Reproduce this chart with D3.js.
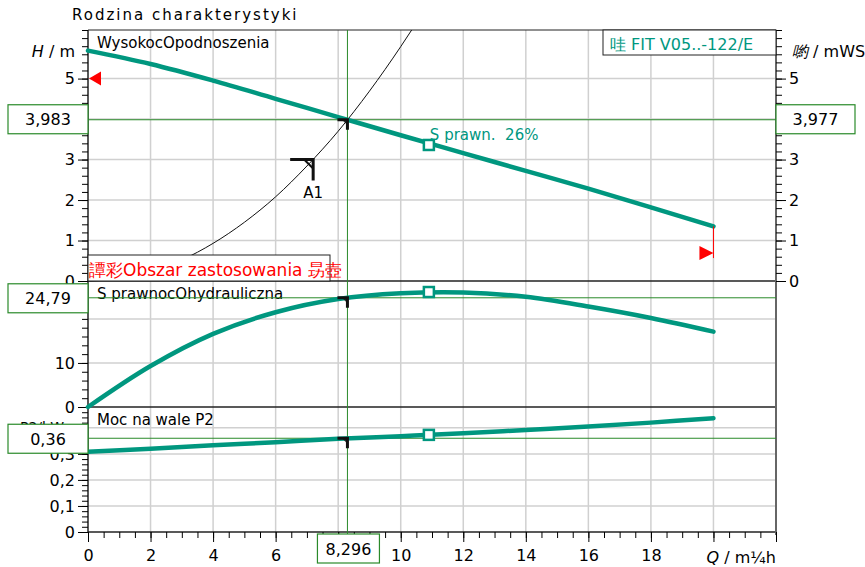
<!DOCTYPE html>
<meta charset="UTF-8">
<script src="https://d3js.org/d3.v7.min.js"></script>
<style>
  body { margin: 0; background: #fff; }
  text { font-family: "DejaVu Sans", sans-serif; }
</style>
<div id="chart"></div>
<script>

  // Data
  const flowQ    = [0, 2, 4, 6, 8, 10, 12, 14, 16, 18, 20];
  const headH    = [5.69, 5.36, 4.95, 4.50, 4.05, 3.60, 3.16, 2.72, 2.28, 1.82, 1.35];
  const effPct   = [0, 9.3, 16.6, 21.5, 24.5, 25.8, 26.0, 25.0, 22.8, 20.2, 17.1];
  const powerP2  = [0.308, 0.320, 0.333, 0.345, 0.358, 0.368, 0.379, 0.392, 0.405, 0.420, 0.437];
  const sysQ     = [0, 1, 2, 3, 4, 5, 6, 7, 8, 9, 10, 10.35];
  const sysH     = [0, 0.058, 0.23, 0.52, 0.93, 1.45, 2.08, 2.84, 3.70, 4.69, 5.79, 6.2];
  const opQ = 8.296, opH = 3.983, opHright = 3.977, opEff = 24.79, opP2 = 0.36;
  const bestQ = 10.9, bestH = 3.36, bestEff = 26.1, bestP2 = 0.373;
  const a1 = {q: 7.2, h: 3.0};
  const minLimitH = 5.0, maxLimit = {q: 20, h: 0.69};
  const xTicks = [0, 2, 4, 6, 10, 12, 14, 16, 18];
  const hTicks = [0, 1, 2, 3, 5];
  const effTicks = [0, 10];
  const p2Ticks = [0, 0.1, 0.2, 0.3];

  const W = 865, H = 567;
  const teal = "#00977f", green = "#2a8a2a", grid = "#d0d0d0";

  const svg = d3.select("#chart").append("svg")
    .attr("width", W).attr("height", H);

  const x  = d3.scaleLinear().domain([0, 22]).range([88, 776]);
  const yH = d3.scaleLinear().domain([0, 6.2]).range([281, 30]);
  const yE = d3.scaleLinear().domain([0, 28.6]).range([407, 281]);
  const yP = d3.scaleLinear().domain([0, 0.48]).range([532, 407]);

  const fmt = d3.formatLocale({decimal: ",", thousands: " ", grouping: [3], currency: ["", ""]});
  const f1 = v => fmt.format("~g")(v);

  // grid
  const g = svg.append("g");
  d3.range(2, 21, 2).forEach(q => {
    g.append("line").attr("x1", x(q)).attr("x2", x(q)).attr("y1", 30).attr("y2", 532)
      .attr("stroke", grid).attr("stroke-width", 1.5);
  });
  [1, 2, 3, 4, 5].forEach(v => g.append("line").attr("x1", 88).attr("x2", 776)
    .attr("y1", yH(v)).attr("y2", yH(v)).attr("stroke", grid).attr("stroke-width", 1.5));
  [10, 20].forEach(v => g.append("line").attr("x1", 88).attr("x2", 776)
    .attr("y1", yE(v)).attr("y2", yE(v)).attr("stroke", grid).attr("stroke-width", 1.5));
  [0.1, 0.2, 0.3, 0.4].forEach(v => g.append("line").attr("x1", 88).attr("x2", 776)
    .attr("y1", yP(v)).attr("y2", yP(v)).attr("stroke", grid).attr("stroke-width", 1.5));

  // panel borders
  [30, 281, 407, 532].forEach(yy => svg.append("line").attr("x1", 88).attr("x2", 776)
    .attr("y1", yy).attr("y2", yy).attr("stroke", "#222").attr("stroke-width", yy == 30 ? 1 : 1.5));
  svg.append("line").attr("x1", 88).attr("x2", 88).attr("y1", 30).attr("y2", 532)
    .attr("stroke", "#222").attr("stroke-width", 1.5);
  svg.append("line").attr("x1", 776).attr("x2", 776).attr("y1", 30).attr("y2", 535)
    .attr("stroke", "#666").attr("stroke-width", 2);

  // axes
  function leftAxis(scale, major, minorStep, lo, hi) {
    const ax = svg.append("g").attr("transform", "translate(88,0)");
    ax.call(d3.axisLeft(scale).tickValues(d3.range(lo, hi + 1e-9, minorStep)).tickSize(6).tickFormat(""));
    ax.select(".domain").remove();
    const ax2 = svg.append("g").attr("transform", "translate(88,0)");
    ax2.call(d3.axisLeft(scale).tickValues(major).tickSize(10).tickPadding(3).tickFormat(f1));
    ax2.select(".domain").remove();
    ax2.selectAll("text").style("font-size", "16px");
    return ax2;
  }
  leftAxis(yH, hTicks, 0.2, 0, 6.2);
  leftAxis(yE, effTicks, 2, 0, 28);
  leftAxis(yP, p2Ticks, 0.02, 0, 0.48);

  const rAx = svg.append("g").attr("transform", "translate(776,0)");
  rAx.call(d3.axisRight(yH).tickValues(d3.range(0, 6.21, 0.2)).tickSize(6).tickFormat(""));
  rAx.select(".domain").remove();
  const rAx2 = svg.append("g").attr("transform", "translate(776,0)");
  rAx2.call(d3.axisRight(yH).tickValues(hTicks).tickSize(10).tickPadding(3).tickFormat(f1));
  rAx2.select(".domain").remove();
  rAx2.selectAll("text").style("font-size", "16px");

  const bAx = svg.append("g").attr("transform", "translate(0,532)");
  bAx.call(d3.axisBottom(x).tickValues(d3.range(0, 22.01, 0.5)).tickSize(6).tickFormat(""));
  bAx.select(".domain").remove();
  const bAx2 = svg.append("g").attr("transform", "translate(0,532)");
  bAx2.call(d3.axisBottom(x).tickValues(d3.range(0, 22.01, 2)).tickSize(10).tickPadding(8)
    .tickFormat(d => xTicks.includes(d) ? d : ""));
  bAx2.select(".domain").remove();
  bAx2.selectAll("text").style("font-size", "16px");

  // axis labels
  const hl = svg.append("text").attr("x", 75).attr("y", 57).attr("text-anchor", "end").style("font-size", "16px");
  hl.append("tspan").style("font-style", "italic").text("H");
  hl.append("tspan").text(" / m");
  const rl = svg.append("text").attr("x", 792).attr("y", 57).style("font-size", "16px");
  rl.append("tspan").style("font-style", "italic").text("喲");
  rl.append("tspan").text(" / mWS");
  svg.append("text").attr("x", 20).attr("y", 432).style("font-size", "14px").text("P2/kW");
  const ql = svg.append("text").attr("x", 776).attr("y", 563).attr("text-anchor", "end").style("font-size", "16px");
  ql.append("tspan").style("font-style", "italic").text("Q");
  ql.append("tspan").text(" / m¼h");

  svg.append("text").attr("x", 72).attr("y", 20).style("font-size", "15px")
    .style("letter-spacing", "2px").text("Rodzina charakterystyki");
  svg.append("text").attr("x", 97).attr("y", 48).style("font-size", "15px").text("WysokocOpodnoszenia");
  svg.append("text").attr("x", 97).attr("y", 299).style("font-size", "15px")
    .attr("xml:space", "preserve").style("white-space", "pre").text("S prawnocOhydrauliczna");
  svg.append("text").attr("x", 97).attr("y", 425).style("font-size", "15px").text("Moc na wale P2");

  // system curve
  const sysPts = sysQ.map((q, i) => [q, sysH[i]]);
  svg.append("path").datum(sysPts)
    .attr("d", d3.line().x(d => x(d[0])).y(d => yH(d[1])).curve(d3.curveMonotoneX))
    .attr("fill", "none").attr("stroke", "#111").attr("stroke-width", 1);

  // operating point lines
  svg.append("line").attr("x1", x(opQ)).attr("x2", x(opQ)).attr("y1", 30).attr("y2", 534)
    .attr("stroke", green).attr("stroke-width", 1);
  svg.append("line").attr("x1", 62).attr("x2", 800).attr("y1", yH(opH)).attr("y2", yH(opH))
    .attr("stroke", green).attr("stroke-width", 1);
  svg.append("line").attr("x1", 62).attr("x2", 776).attr("y1", yE(opEff)).attr("y2", yE(opEff))
    .attr("stroke", green).attr("stroke-width", 1);
  svg.append("line").attr("x1", 62).attr("x2", 776).attr("y1", yP(opP2)).attr("y2", yP(opP2))
    .attr("stroke", green).attr("stroke-width", 1);

  // pump curves
  const lineOf = (ys, sc) => d3.line().x((d, i) => x(flowQ[i])).y(d => sc(d)).curve(d3.curveCatmullRom.alpha(0.5))(ys);
  [[headH, yH], [effPct, yE], [powerP2, yP]].forEach(([ys, sc]) => {
    svg.append("path").attr("d", lineOf(ys, sc)).attr("fill", "none")
      .attr("stroke", teal).attr("stroke-width", 4.5).attr("stroke-linecap", "round");
  });

  // red limit markers
  svg.append("path").attr("fill", "red")
    .attr("d", `M${x(0) + 1},${yH(minLimitH)} l12,-7 l0,14 Z`);
  svg.append("line").attr("x1", x(maxLimit.q)).attr("x2", x(maxLimit.q))
    .attr("y1", yH(headH[headH.length - 1])).attr("y2", yH(maxLimit.h) + 5)
    .attr("stroke", "red").attr("stroke-width", 1);
  svg.append("path").attr("fill", "red")
    .attr("d", `M${x(maxLimit.q)},${yH(maxLimit.h)} l-14,-7 l0,14 Z`);

  // best efficiency squares
  [[bestH, yH], [bestEff, yE], [bestP2, yP]].forEach(([v, sc]) => {
    svg.append("rect").attr("x", x(bestQ) - 5).attr("y", sc(v) - 5).attr("width", 10).attr("height", 10)
      .attr("fill", "#fff").attr("stroke", teal).attr("stroke-width", 2.5);
  });
  svg.append("text").attr("x", x(bestQ) + 1).attr("y", yH(bestH) - 5).attr("fill", teal)
    .style("font-size", "15px").attr("xml:space", "preserve").style("white-space", "pre").text("S prawn.  26%");

  // operating point markers
  function corner(px, py, len, w) {
    const m = svg.append("g");
    m.append("path").attr("d", `M${px - len},${py} L${px},${py} L${px},${py + len}`)
      .attr("fill", "none").attr("stroke", "#111").attr("stroke-width", w);
    m.append("path").attr("d", `M${px - len * 0.55},${py} L${px},${py} L${px},${py + len * 0.55} Z`)
      .attr("fill", "#111").attr("fill-opacity", 0.8);
  }
  corner(x(opQ), yH(opH), 10, 3);
  corner(x(opQ), yE(opEff), 10, 3);
  corner(x(opQ), yP(opP2), 10, 3);

  // A1 marker
  const ax1 = x(a1.q), ay1 = yH(a1.h);
  svg.append("path").attr("d", `M${ax1 - 23},${ay1} L${ax1},${ay1} L${ax1},${ay1 + 21}`)
    .attr("fill", "none").attr("stroke", "#111").attr("stroke-width", 3);
  svg.append("path").attr("d", `M${ax1 - 9},${ay1} L${ax1},${ay1 + 9}`)
    .attr("fill", "none").attr("stroke", "#111").attr("stroke-width", 2);
  svg.append("text").attr("x", ax1).attr("y", ay1 + 38).attr("text-anchor", "middle")
    .style("font-size", "15px").text("A1");

  // application range box
  svg.append("rect").attr("x", 88).attr("y", 255).attr("width", 242).attr("height", 26)
    .attr("fill", "#fff").attr("stroke", "#222").attr("stroke-width", 1);
  svg.append("text").attr("x", 89).attr("y", 276).attr("fill", "red").style("font-size", "17px")
    .text("譚彩Obszar zastosowania 昮壺");

  // model box
  svg.append("rect").attr("x", 603).attr("y", 30).attr("width", 173).attr("height", 25)
    .attr("fill", "#fff").attr("stroke", "#222").attr("stroke-width", 1);
  svg.append("text").attr("x", 610).attr("y", 50).attr("fill", teal).style("font-size", "16px")
    .text("哇 FIT V05..-122/E");

  // value boxes
  function valBox(bx, by, bw, bh, txt) {
    svg.append("rect").attr("x", bx).attr("y", by).attr("width", bw).attr("height", bh)
      .attr("fill", "#fff").attr("stroke", green).attr("stroke-width", 1.2);
    svg.append("text").attr("x", bx + bw / 2).attr("y", by + bh / 2 + 6).attr("text-anchor", "middle")
      .style("font-size", "16px").text(txt);
  }
  valBox(8, yH(opH) - 15, 80, 29, fmt.format(".3f")(opH));
  valBox(776, yH(opH) - 15, 79, 29, fmt.format(".3f")(opHright));
  valBox(8, yE(opEff) - 14, 80, 29, fmt.format(".2f")(opEff));
  valBox(8, yP(opP2) - 14, 80, 29, fmt.format(".2f")(opP2));
  valBox(x(opQ) - 30, 534, 62, 29, fmt.format(".3f")(opQ));

</script>
